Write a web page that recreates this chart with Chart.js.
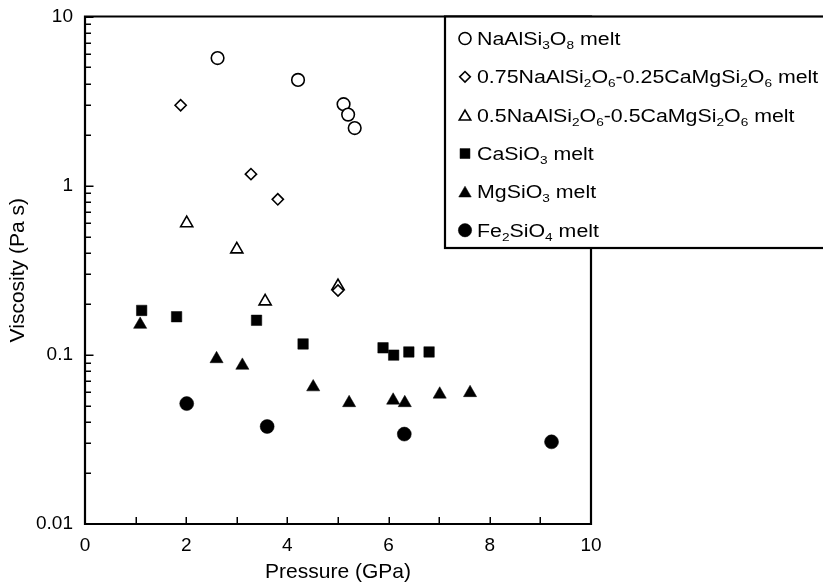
<!DOCTYPE html>
<html><head><meta charset="utf-8">
<script src="https://cdn.jsdelivr.net/npm/chart.js@4.4.0/dist/chart.umd.min.js"></script>
<style>html,body{margin:0;padding:0;background:#fff}#wrap{width:823px;height:586px}</style>
</head><body><div id="wrap"><canvas id="c" width="823" height="586"></canvas></div>
<script>
// ---------- data ----------
const seriesNames = [
  'NaAlSi_3O_8 melt',
  '0.75NaAlSi_2O_6-0.25CaMgSi_2O_6 melt',
  '0.5NaAlSi_2O_6-0.5CaMgSi_2O_6 melt',
  'CaSiO_3 melt',
  'MgSiO_3 melt',
  'Fe_2SiO_4 melt'
];
const naAlSi3O8P = [2.62, 4.21, 5.11, 5.20, 5.33];
const naAlSi3O8V = [5.68, 4.22, 3.03, 2.63, 2.19];
const mix75P = [1.89, 3.28, 3.81, 5.00];
const mix75V = [2.99, 1.17, 0.83, 0.24];
const mix50P = [2.01, 3.00, 3.56, 5.00];
const mix50V = [0.60, 0.42, 0.207, 0.255];
const caSiO3P = [1.12, 1.81, 3.39, 4.31, 5.89, 6.10, 6.40, 6.80];
const caSiO3V = [0.183, 0.168, 0.160, 0.116, 0.110, 0.0996, 0.104, 0.104];
const mgSiO3P = [1.09, 2.60, 3.11, 4.51, 5.22, 6.09, 6.32, 7.01, 7.61];
const mgSiO3V = [0.151, 0.0946, 0.0865, 0.0645, 0.0520, 0.0538, 0.0520, 0.0584, 0.0596];
const fe2SiO4P = [2.01, 3.60, 6.31, 9.22];
const fe2SiO4V = [0.0515, 0.0377, 0.034, 0.0306];

const xMin = 0, xMax = 10, xStep = 2, xMinorStep = 1;
const yTickValues = [0.01, 0.1, 1, 10];
const yTickLabels = ['0.01', '0.1', '1', '10'];
const xTitle = 'Pressure (GPa)';
const yTitle = 'Viscosity (Pa s)';

// ---------- styles ----------
const FONT = '"Liberation Sans", Arial, sans-serif';
const seriesStyles = [
  {pointStyle: 'circle',   radius: 6.3, fill: '#fff', bw: 1.6},
  {pointStyle: 'rectRot',  radius: 5.6, fill: '#fff', bw: 1.6},
  {pointStyle: 'triangle', radius: 7.0, fill: '#fff', bw: 1.6},
  {pointStyle: 'rect',     radius: 7.4, fill: '#000', bw: 0.5},
  {pointStyle: 'triangle', radius: 7.6, fill: '#000', bw: 0.5},
  {pointStyle: 'circle',   radius: 7.0, fill: '#000', bw: 0.5}
];
const seriesData = [
  [naAlSi3O8P, naAlSi3O8V], [mix75P, mix75V], [mix50P, mix50V],
  [caSiO3P, caSiO3V], [mgSiO3P, mgSiO3V], [fe2SiO4P, fe2SiO4V]
];

const datasets = seriesData.map(([P, V], i) => ({
  label: seriesNames[i],
  data: P.map((p, k) => ({x: p, y: V[k]})),
  pointStyle: seriesStyles[i].pointStyle,
  pointRadius: seriesStyles[i].radius,
  pointBackgroundColor: seriesStyles[i].fill,
  pointBorderColor: '#000',
  pointBorderWidth: seriesStyles[i].bw,
  showLine: false
}));

function drawRich(ctx, str, x, y, size, hscale) {
  ctx.save();
  ctx.translate(x, y);
  ctx.scale(hscale, 1);
  ctx.fillStyle = '#000';
  ctx.textBaseline = 'alphabetic';
  ctx.textAlign = 'left';
  let cx = 0;
  const parts = str.split(/(_\d)/);
  for (const p of parts) {
    if (!p) continue;
    if (p[0] === '_') {
      ctx.font = (size * 0.64) + 'px ' + FONT;
      ctx.fillText(p.slice(1), cx, size * 0.24);
      cx += ctx.measureText(p.slice(1)).width;
    } else {
      ctx.font = size + 'px ' + FONT;
      ctx.fillText(p, cx, 0);
      cx += ctx.measureText(p).width;
    }
  }
  ctx.restore();
}

const framePlugin = {
  id: 'frame',
  afterDraw(chart) {
    const ctx = chart.ctx, ca = chart.chartArea;
    const xs = chart.scales.x, ys = chart.scales.y;
    ctx.save();
    ctx.strokeStyle = '#000';
    ctx.lineCap = 'butt';
    // inward ticks
    ctx.lineWidth = 1.5;
    ctx.beginPath();
    for (let v = xMin + xMinorStep; v < xMax; v += xMinorStep) {
      const px = Math.round(xs.getPixelForValue(v)) + 0.25;
      ctx.moveTo(px, ca.bottom);
      ctx.lineTo(px, ca.bottom - 7);
    }
    for (let d = 0; d < yTickValues.length; d++) {
      const dec = yTickValues[d];
      for (let m = 1; m <= 9; m++) {
        const v = dec * m;
        if (v > yTickValues[yTickValues.length - 1] + 1e-9) break;
        const py = Math.round(ys.getPixelForValue(v)) + 0.25;
        const len = (m === 1) ? 8.5 : 6;
        ctx.moveTo(ca.left, py);
        ctx.lineTo(ca.left + len, py);
      }
    }
    ctx.stroke();
    // frame
    ctx.lineWidth = 2.2;
    ctx.beginPath();
    ctx.rect(ca.left, ca.top, ca.right - ca.left, ca.bottom - ca.top);
    ctx.stroke();

    // legend box
    const lx = 445, ly = ca.top, lb = 248, lr = chart.width + 10;
    ctx.fillStyle = '#fff';
    ctx.fillRect(lx, ly, lr - lx, lb - ly);
    ctx.lineWidth = 2.2;
    ctx.strokeRect(lx, ly, lr - lx, lb - ly);

    const rowY0 = 38.5, rowStep = 38.35, markerX = 465, textX = 477, fs = 17.5;
    seriesNames.forEach((name, i) => {
      const ry = rowY0 + i * rowStep;
      const st = seriesStyles[i];
      ctx.fillStyle = st.fill;
      ctx.strokeStyle = '#000';
      ctx.lineWidth = st.bw;
      Chart.helpers.drawPoint(ctx, {pointStyle: st.pointStyle, radius: st.radius * 0.95, borderWidth: st.bw}, markerX, ry + (st.pointStyle === 'triangle' ? 1.5 : 0));
      drawRich(ctx, name, textX, ry + fs * 0.36, fs, 1.22);
    });
    ctx.restore();
  }
};

new Chart(document.getElementById('c'), {
  type: 'scatter',
  data: {datasets},
  plugins: [framePlugin],
  options: {
    responsive: false,
    animation: false,
    devicePixelRatio: 1,
    layout: {padding: {top: 16.5, right: 232, bottom: 0, left: 0}},
    plugins: {legend: {display: false}, tooltip: {enabled: false}},
    scales: {
      x: {
        type: 'linear', min: xMin, max: xMax,
        grid: {display: false, drawTicks: false},
        border: {display: false},
        ticks: {stepSize: xStep, padding: 10, color: '#000', font: {family: FONT, size: 19}},
        title: {display: true, text: xTitle, color: '#000', font: {family: FONT, size: 21}, padding: {top: 0, bottom: 1}},
        afterFit(s) { s.height = 62; }
      },
      y: {
        type: 'logarithmic', min: yTickValues[0], max: yTickValues[yTickValues.length - 1],
        grid: {display: false, drawTicks: false},
        border: {display: false},
        afterBuildTicks(s) { s.ticks = yTickValues.map(v => ({value: v})); },
        ticks: {padding: 12, color: '#000', font: {family: FONT, size: 19, lineHeight: 0.1},
                callback: (v, i) => yTickLabels[i]},
        title: {display: true, text: yTitle, color: '#000', font: {family: FONT, size: 21}, padding: {top: 6, bottom: 0}},
        afterFit(s) { s.width = 85; }
      }
    }
  }
});
</script></body></html>
